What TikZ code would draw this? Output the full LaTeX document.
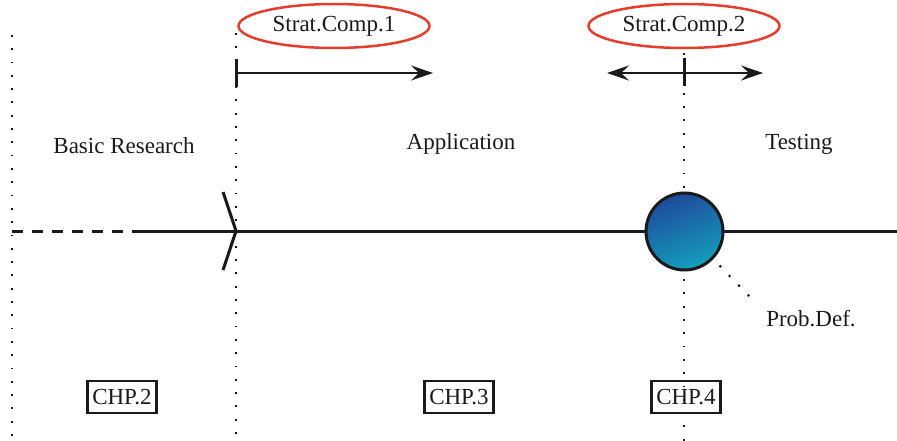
\documentclass[tikz,border=0pt]{standalone}
\usepackage{fontspec}
\setmainfont{Liberation Serif}
\usetikzlibrary{arrows.meta,shapes.geometric}
\definecolor{sred}{HTML}{E43D2C}
\definecolor{cdark}{HTML}{1E4A9B}
\definecolor{cmid}{HTML}{0A8FD2}
\definecolor{clight}{HTML}{149FBE}
\definecolor{ink}{HTML}{1A1A1A}
\begin{document}
\begin{tikzpicture}[x=1pt,y=-1pt,
  font=\fontsize{23}{27}\selectfont,
  dotline/.style={line width=1.8pt, line cap=butt, dash pattern=on 1.8pt off 11.5pt, draw=ink},
  mainline/.style={line width=3pt, draw=ink},
  arr/.style={line width=2.5pt, draw=ink},
  tickline/.style={line width=3pt, draw=ink},
  tip/.tip={Stealth[length=22pt,width=15pt,inset=8pt]},
  strat/.style={ellipse, draw=sred, line width=2.5pt, minimum width=191pt, minimum height=44pt, inner sep=0pt, text=ink},
  chp/.style={draw=ink, line width=2.5pt, inner xsep=5pt, inner ysep=2pt, minimum height=32pt, text=ink},
  lbl/.style={text=ink, inner sep=0pt}]
\useasboundingbox (0,0) rectangle (897,441);

% dotted vertical guides
\coordinate (d1t) at (12,35);   \coordinate (d1b) at (12,441);
\coordinate (d2t) at (236,33);  \coordinate (d2b) at (236,441);
\coordinate (d3t) at (684,53);  \coordinate (d3b) at (684,441);
\draw[dotline] (d1t) -- (d1b);
\draw[dotline] (d2t) -- (d2b);
\draw[dotline] (d3t) -- (d3b);

% ellipses
\node[strat] (sc1) at (334,26) {Strat.Comp.1};
\node[strat] (sc2) at (684,26) {Strat.Comp.2};

% arrows
\coordinate (a1s) at (236,73); \coordinate (a1e) at (433,73);
\draw[arr, -tip] (a1s) -- (a1e);
\coordinate (t1a) at (236,59); \coordinate (t1b) at (236,87);
\draw[tickline] (t1a) -- (t1b);

\coordinate (a2s) at (607,73); \coordinate (a2e) at (763,73);
\draw[arr, tip-tip] (a2s) -- (a2e);
\coordinate (t2a) at (684,58); \coordinate (t2b) at (684,86);
\draw[tickline] (t2a) -- (t2b);

% main line
\coordinate (mL) at (12,231); \coordinate (mD) at (135,231); \coordinate (mR) at (897,231);
\draw[mainline, dash pattern=on 11pt off 9pt] (mL) -- (mD);
\draw[mainline] (mD) -- (mR);

% chevron
\coordinate (chT) at (223,192); \coordinate (apex) at (236,231); \coordinate (chB) at (223,270);
\draw[mainline, line join=miter] (chT) -- (apex) -- (chB);

% circle
\node[circle, draw=ink, line width=3pt, minimum size=77pt, inner sep=0pt,
      top color=cdark, middle color=cmid, bottom color=clight, shading angle=20] (pd) at (684.5,231.5) {};

% labels
\node[lbl] (br) at (124,146) {Basic Research};
\node[lbl] (ap) at (461,144) {Application};
\node[lbl] (ts) at (799,144) {Testing};
\node[lbl] (pdl) at (811,319) {Prob.Def.};

% diagonal dotted
\coordinate (dg) at (719.5,265.5); \coordinate (dge) at (750,297);
\draw[dotline, line width=2.2pt, dash pattern=on 2.2pt off 11.3pt] (dg) -- (dge);

% chapter boxes
\node[chp] (c2) at (122,397) {CHP.2};
\node[chp] (c3) at (459,397) {CHP.3};
\node[chp] (c4) at (686,397) {CHP.4};
\end{tikzpicture}
\end{document}
